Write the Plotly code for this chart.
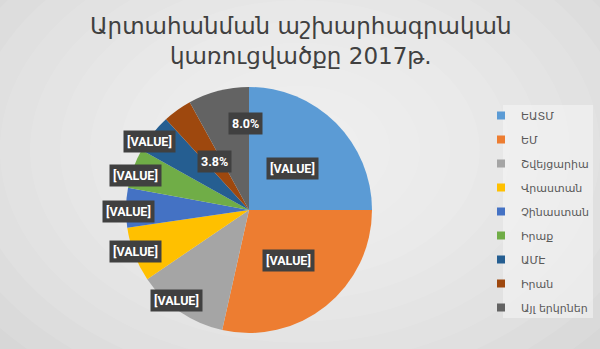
import math
import plotly.graph_objects as go

# ---- data ----
countries = ["ԵԱՏՄ", "ԵՄ", "Շվեյցարիա", "Վրաստան", "Չինաստան", "Իրաք", "ԱՄԷ", "Իրան", "Այլ երկրներ"]
shares = [25.0, 28.5, 12.0, 7.2, 5.2, 5.2, 5.1, 3.8, 8.0]
label_texts = ["[VALUE]", "[VALUE]", "[VALUE]", "[VALUE]", "[VALUE]", "[VALUE]", "[VALUE]", "3.8%", "8.0%"]
title_text = "Արտահանման աշխարհագրական<br>կառուցվածքը 2017թ."

colors = ["#5B9BD5", "#ED7D31", "#A5A5A5", "#FFC000", "#4472C4", "#70AD47", "#255E91", "#9E480E", "#636363"]

W, H = 600, 349
cx, cy, R = 249, 210, 123  # pie centre / radius in px
dom_x = [(cx - R) / W, (cx + R) / W]
dom_y = [(H - cy - R) / H, (H - cy + R) / H]

# label placement style: radial fraction and angle nudge per slice
rad_frac = [0.5, 0.51, 0.93, 0.98, 0.98, 0.97, 0.99, 0.5, 0.72]
ang_nudge = [0, 0, 5, 2, -1, -2, -3, 1, 12]

fig = go.Figure()
fig.add_trace(go.Pie(
    labels=countries, values=shares, sort=False, direction="clockwise", rotation=0,
    marker=dict(colors=colors, line=dict(width=0)),
    textinfo="none", hoverinfo="label+percent", showlegend=False,
    domain=dict(x=dom_x, y=dom_y),
))

# legend entries (one group each so that spacing can be widened)
for name, col in zip(countries, colors):
    fig.add_trace(go.Scatter(x=[None], y=[None], mode="markers", name=name,
                             legendgroup=name,
                             marker=dict(symbol="square", size=8, color=col)))

# background radial gradient approximation
shapes = []
n = 14
for i in range(n):
    f = 1 - i / n
    rx, ry = 420 * f, 300 * f
    shapes.append(dict(type="circle", xref="paper", yref="paper",
                       x0=(300 - rx) / W, x1=(300 + rx) / W,
                       y0=(H - 150 - ry) / H, y1=(H - 150 + ry) / H,
                       fillcolor="rgba(255,255,255,0.09)", line=dict(width=0), layer="below"))
# legend box
shapes.append(dict(type="rect", xref="paper", yref="paper",
                   x0=503 / W, x1=593 / W, y0=(H - 318) / H, y1=(H - 105) / H,
                   fillcolor="rgba(245,245,245,0.55)", line=dict(width=0), layer="below"))

annotations = []
total = sum(shares)
acc = 0
for val, txt, fr, nd in zip(shares, label_texts, rad_frac, ang_nudge):
    mid = (acc + val / 2) / total * 360 + nd
    acc += val
    th = math.radians(mid)
    px = cx + R * fr * math.sin(th)
    py = cy - R * fr * math.cos(th)
    annotations.append(dict(x=px / W, y=(H - py) / H, xref="paper", yref="paper",
                            xanchor="center", yanchor="middle", yshift=-2,
                            text="<b>%s</b>" % txt, showarrow=False,
                            font=dict(family="Roboto", size=12.5, color="white"),
                            bgcolor="#404040", borderpad=3))

annotations.append(dict(x=0.5, y=1 - 11 / H, xref="paper", yref="paper", xanchor="center", yanchor="top",
                        text=title_text, showarrow=False,
                        font=dict(family="DejaVu Sans", size=23, color="#404040")))

fig.update_layout(
    width=W, height=H, margin=dict(l=0, r=0, t=0, b=0),
    paper_bgcolor="#d4d4d4", plot_bgcolor="rgba(0,0,0,0)",
    xaxis=dict(visible=False), yaxis=dict(visible=False),
    legend=dict(x=1 - 6 / W, y=1 - 101 / H, xanchor="right", yanchor="top",
                bgcolor="rgba(0,0,0,0)", borderwidth=0, tracegroupgap=5,
                itemwidth=30,
                font=dict(family="DejaVu Sans", size=11, color="#595959")),
    shapes=shapes, annotations=annotations,
)
fig.write_html("out.html")
